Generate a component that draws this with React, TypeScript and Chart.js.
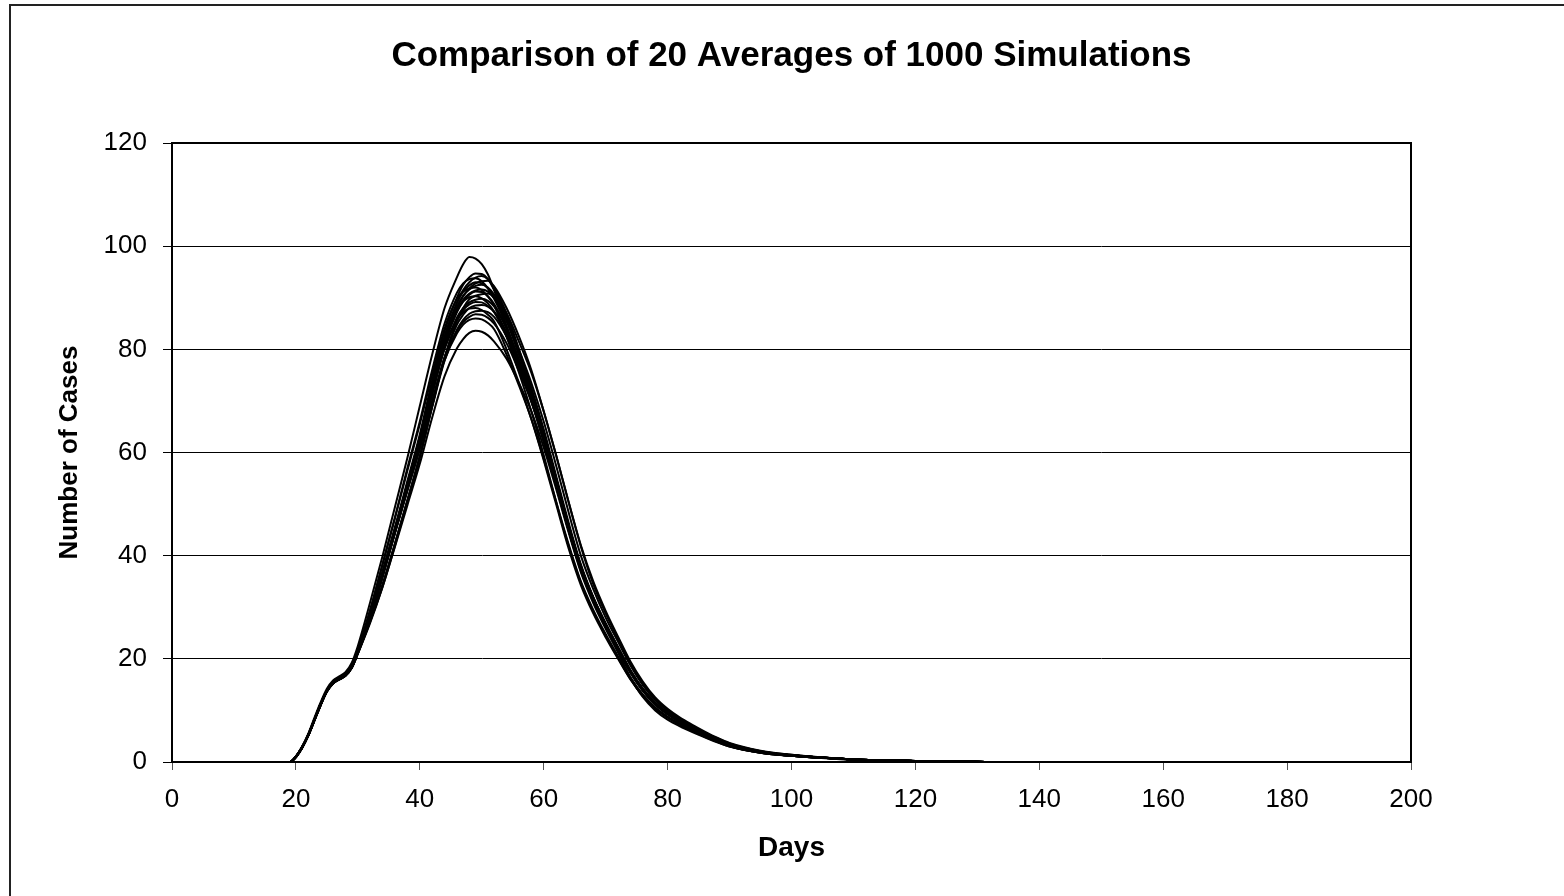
import React, { useEffect, useRef } from "react";
import { Chart, registerables } from "chart.js";

Chart.register(...registerables);

const TITLE = "Comparison of 20 Averages of 1000 Simulations";
const X_TITLE = "Days";
const Y_TITLE = "Number of Cases";
const X_MIN = 0;
const X_MAX = 200;
const X_STEP = 20;
const Y_MIN = 0;
const Y_MAX = 120;
const Y_STEP = 20;

const DAYS = [0,19,20,21,22,23,24,25,26,27,28,29,30,32,34,36,38,40,42,44,46,47,48,49,50,51,52,54,56,58,60,62,64,66,68,70,72,74,76,78,80,82,84,86,88,90,95,100,110,120,127,135,200];

const S01 = [0,0,1.1,3.0,5.5,8.6,11.6,14.2,15.8,16.6,17.4,19.2,22.5,31,40,49.5,59,69,79,88,94,96.5,97.9,97.6,96.5,94.5,91.5,84.5,77,70,62,53.5,45,37.5,31.5,26.5,22,17.5,14,11.3,9.3,7.8,6.5,5.3,4.2,3.3,2.0,1.3,0.5,0.2,0.1,0,0];
const S02 = [0,0,1.0,2.9,5.3,8.3,11.3,13.9,15.5,16.3,17.0,18.7,21.8,29,37,45.5,54.5,63.5,74,83.5,90,92.5,94,94.7,94.6,93.6,91.5,86.5,80,73.5,66,57.5,48.5,40,33.5,28,23.3,18.7,14.9,12,9.9,8.2,6.9,5.6,4.5,3.5,2.1,1.3,0.5,0.2,0.1,0,0];
const S03 = [0,0,0.9,2.7,5.1,8.1,11.1,13.7,15.3,16.1,16.8,18.4,21.3,28.3,36.3,45,54,63,73,82.5,89,91.5,93,93.9,94.2,93.6,92,87,80,72.5,64,55,46,38,31.8,26.8,22.2,17.8,14.2,11.5,9.5,8.0,6.7,5.5,4.4,3.4,2.0,1.3,0.5,0.2,0.1,0,0];
const S04 = [0,0,1.0,2.8,5.2,8.2,11.2,13.8,15.4,16.2,16.9,18.6,21.7,29.5,38.5,47.5,57,66,76,85,91,92.8,93.6,93.8,93.2,91.8,89.8,84.5,78,71,63,54,45,37,31.2,26.2,21.7,17.3,13.8,11.2,9.3,7.8,6.5,5.3,4.2,3.2,1.9,1.2,0.5,0.2,0.1,0,0];
const S05 = [0,0,1.0,2.8,5.2,8.1,11.1,13.7,15.2,16.0,16.7,18.2,21.0,27.8,35.8,44.5,53,62,72,81.5,88,90.3,91.8,92.8,93.2,93.3,92.2,88,82.5,76,68,59.5,50.5,42,35,29.3,24.3,19.5,15.6,12.5,10.3,8.6,7.2,5.9,4.7,3.7,2.2,1.4,0.5,0.2,0.1,0,0];
const S06 = [0,0,1.0,2.8,5.2,8.2,11.2,13.8,15.4,16.3,17.0,18.6,21.6,28.7,36.7,45.3,54,63,73,82.5,89,91.2,92.4,93,92.8,91.8,90,85.5,79,72,64,55,46,38,31.8,26.7,22.1,17.6,14.1,11.4,9.5,7.9,6.6,5.4,4.3,3.3,2.0,1.3,0.5,0.2,0.1,0,0];
const S07 = [0,0,1.0,2.8,5.1,8.1,11.1,13.7,15.3,16.1,16.8,18.4,21.4,28.4,36.4,45,53.6,62.5,72.5,82,88.2,90.4,91.6,92.3,92.5,92,90.6,86,79.5,72.5,64.5,55.5,46.5,38.3,32,26.9,22.3,17.8,14.2,11.5,9.5,7.9,6.6,5.4,4.3,3.3,2.0,1.3,0.5,0.2,0.1,0,0];
const S08 = [0,0,1.1,2.9,5.3,8.3,11.3,13.9,15.5,16.3,17.0,18.6,21.7,29.5,38.3,47.3,56.5,65.5,75,84,89.8,91.2,91.8,92,91.5,90.2,88.5,82.5,75.5,68,59.5,50.5,42,34.8,29.2,24.5,20.2,16.1,12.8,10.4,8.7,7.3,6.1,5.0,4.0,3.1,1.8,1.2,0.5,0.2,0.1,0,0];
const S09 = [0,0,0.9,2.7,5.1,8.1,11.1,13.7,15.3,16.1,16.8,18.3,21.2,28.1,36.1,44.7,53.2,62,72,81.2,87.5,89.6,90.8,91.4,91.6,91.2,90,85.5,79,72,64,55,46,38,31.8,26.7,22.1,17.6,14.1,11.4,9.4,7.9,6.6,5.4,4.3,3.3,2.0,1.3,0.5,0.2,0.1,0,0];
const S10 = [0,0,1.0,2.8,5.2,8.2,11.2,13.8,15.4,16.2,16.9,18.5,21.5,28.5,36.5,45,53.5,62,72,81,87.2,89.3,90.6,91.2,91.1,90.3,88.8,84,77.5,71,63,54.2,45.3,37.4,31.4,26.4,21.9,17.4,13.9,11.2,9.3,7.8,6.5,5.3,4.2,3.2,1.9,1.2,0.5,0.2,0.1,0,0];
const S11 = [0,0,1.0,2.8,5.2,8.1,11.0,13.6,15.2,16.0,16.7,18.2,21.0,27,34,42,50.5,59,69,78.5,85.5,88,89.7,90.4,90.7,90.8,90,87,81.5,75.5,68,59.5,50.5,41.8,34.5,28.8,23.8,19,15.2,12.2,10,8.4,7,5.7,4.6,3.6,2.1,1.4,0.5,0.2,0.1,0,0];
const S12 = [0,0,1.0,2.9,5.3,8.3,11.3,13.9,15.5,16.3,17.0,18.6,21.6,28.7,36.7,45.3,53.8,62.5,72.5,81.5,87.5,89.3,90.1,90.3,89.9,88.9,87.3,82.5,76.5,70,62.3,53.6,45,37.2,31.3,26.3,21.8,17.4,13.9,11.2,9.3,7.7,6.4,5.2,4.1,3.2,1.9,1.2,0.5,0.2,0.1,0,0];
const S13 = [0,0,1.0,2.8,5.2,8.2,11.2,13.8,15.4,16.2,16.9,18.4,21.3,28.2,36.2,44.6,53,61.5,71.3,80.3,86.2,88,89.1,89.6,89.8,89.4,88.3,84,78,71.5,63.5,54.8,46,38,31.8,26.7,22.1,17.6,14.1,11.4,9.4,7.9,6.6,5.4,4.3,3.3,2.0,1.3,0.5,0.2,0.1,0,0];
const S14 = [0,0,1.0,2.8,5.2,8.2,11.2,13.8,15.3,16.1,16.8,18.4,21.4,28.4,36.3,44.8,53.2,61.7,71.3,80.2,85.8,87.6,88.7,89.2,89.1,88.4,87.2,83,77,70.7,63,54.4,45.6,37.6,31.6,26.6,22,17.5,14,11.3,9.4,7.9,6.6,5.4,4.3,3.3,2.0,1.3,0.5,0.2,0.1,0,0];
const S15 = [0,0,0.9,2.7,5.1,8.0,11.0,13.6,15.2,16.0,16.7,18.2,21.1,27.3,34.3,42.3,50.7,59.3,69,78.3,84.8,86.7,88,88.5,88.6,88.3,87.3,83.3,77.5,71,63.3,54.6,45.8,37.8,31.7,26.6,22.1,17.6,14.1,11.4,9.4,7.9,6.6,5.4,4.3,3.3,2.0,1.3,0.5,0.2,0.1,0,0];
const S16 = [0,0,1.1,2.9,5.3,8.3,11.3,13.9,15.5,16.3,17.0,18.5,21.5,28.6,36.6,45,53.4,61.8,71.6,80.2,85.6,87.2,87.9,88,87.6,86.7,85.4,80,73.5,66.5,58.5,50,41.5,34.3,28.8,24.2,20,16,12.8,10.3,8.6,7.2,6.0,4.9,3.9,3.0,1.8,1.2,0.5,0.2,0.1,0,0];
const S17 = [0,0,1.0,2.8,5.2,8.2,11.1,13.7,15.3,16.1,16.8,18.3,21.2,27.5,34.5,42.5,50.8,59.2,68.8,77.8,83.8,85.7,86.9,87.4,87.5,87.2,86.3,82.5,77,70.8,63.2,54.6,45.8,37.8,31.7,26.6,22.1,17.6,14.1,11.4,9.4,7.9,6.6,5.4,4.3,3.3,2.0,1.3,0.5,0.2,0.1,0,0];
const S18 = [0,0,1.0,2.8,5.2,8.2,11.2,13.8,15.4,16.2,16.9,18.4,21.3,28.2,36.1,44.4,52.6,60.8,70,78.4,83.6,85.3,86.3,86.8,86.7,86.1,85,81.2,75.8,69.8,62.4,54,45.3,37.4,31.4,26.4,21.9,17.4,13.9,11.2,9.3,7.8,6.5,5.3,4.2,3.2,1.9,1.2,0.5,0.2,0.1,0,0];
const S19 = [0,0,1.0,2.8,5.2,8.2,11.2,13.8,15.4,16.2,16.9,18.5,21.4,28.3,36.2,44.5,52.7,60.8,69.8,77.9,83.1,84.8,85.7,86,85.8,85.1,83.9,79,73,66.5,58.8,50.5,42.3,35,29.5,24.8,20.5,16.4,13.1,10.6,8.8,7.4,6.2,5.0,4.0,3.1,1.8,1.2,0.5,0.2,0.1,0,0];
const S20 = [0,0,1.0,2.8,5.2,8.1,11.1,13.7,15.2,16.0,16.7,18.2,21.0,27.3,34,41.8,49.8,57.8,66.8,74.8,80.2,82,83.2,83.6,83.4,82.7,81.5,78.2,73.5,68,61,53,44.6,36.8,30.8,25.8,21.2,16.4,12.6,10.0,8.2,6.9,5.8,4.8,3.8,3.0,1.8,1.2,0.4,0.2,0.1,0,0];

const SERIES = [S01,S02,S03,S04,S05,S06,S07,S08,S09,S10,S11,S12,S13,S14,S15,S16,S17,S18,S19,S20];

const FONT = "'Liberation Sans', Arial, Helvetica, sans-serif";
const W = 1564;
const H = 896;

const framePlugin = {
  id: "excelFrame",
  beforeDraw(chart: any) {
    const ctx = chart.ctx;
    ctx.save();
    ctx.fillStyle = "#fff";
    ctx.fillRect(0, 0, chart.width, chart.height);
    ctx.strokeStyle = "#222";
    ctx.lineWidth = 2;
    ctx.beginPath();
    ctx.moveTo(10, chart.height + 5);
    ctx.lineTo(10, 5);
    ctx.lineTo(chart.width + 5, 5);
    ctx.stroke();
    ctx.restore();
  },
  afterDatasetsDraw(chart: any) {
    const { left, top, right, bottom } = chart.chartArea;
    const ctx = chart.ctx;
    ctx.save();
    ctx.strokeStyle = "#000";
    ctx.lineWidth = 2;
    ctx.strokeRect(left, top, right - left, bottom - top);
    ctx.restore();
  },
};

export default function App() {
  const ref = useRef<HTMLCanvasElement | null>(null);

  useEffect(() => {
    if (!ref.current) return;
    const chart = new Chart(ref.current, {
      type: "line",
      data: {
        datasets: SERIES.map((s, k) => ({
          label: `Average ${k + 1}`,
          data: DAYS.map((d, i) => ({ x: d, y: s[i] })),
          borderColor: "#000",
          borderWidth: 2,
          pointRadius: 0,
          fill: false,
          cubicInterpolationMode: "monotone" as const,
        })),
      },
      options: {
        responsive: false,
        animation: false,
        layout: { padding: { left: 0, right: 153, top: 0, bottom: 0 } },
        plugins: {
          legend: { display: false },
          tooltip: { enabled: false },
          title: {
            display: true,
            text: TITLE,
            fullSize: false,
            color: "#000",
            font: { family: FONT, size: 35, weight: "bold" },
            padding: { top: 35, bottom: 66 },
          },
        },
        scales: {
          x: {
            type: "linear",
            min: X_MIN,
            max: X_MAX,
            afterFit: (s: any) => {
              s.height = 134;
            },
            ticks: {
              stepSize: X_STEP,
              color: "#000",
              font: { family: FONT, size: 26 },
              padding: 14,
              maxRotation: 0,
            },
            grid: {
              drawOnChartArea: false,
              drawTicks: true,
              tickLength: 8,
              color: "#555",
              lineWidth: 1,
            },
            border: { color: "#000", width: 2 },
            title: {
              display: true,
              text: X_TITLE,
              color: "#000",
              font: { family: FONT, size: 28, weight: "bold" },
              padding: { top: 0, bottom: 31 },
            },
          },
          y: {
            min: Y_MIN,
            max: Y_MAX,
            afterFit: (s: any) => {
              s.width = 172;
            },
            ticks: {
              stepSize: Y_STEP,
              color: "#000",
              font: { family: FONT, size: 26 },
              padding: 16,
            },
            grid: {
              color: "#000",
              lineWidth: 1,
              drawTicks: true,
              tickLength: 9,
            },
            border: { color: "#000", width: 2 },
            title: {
              display: true,
              text: Y_TITLE,
              color: "#000",
              font: { family: FONT, size: 26, weight: "bold" },
              padding: { top: 54, bottom: 0 },
            },
          },
        },
      },
      plugins: [framePlugin],
    });
    return () => chart.destroy();
  }, []);

  return (
    <div style={{ position: "fixed", left: 0, top: 0, width: W, height: H, background: "#fff" }}>
      <canvas ref={ref} width={W} height={H} style={{ display: "block", width: W, height: H }} />
    </div>
  );
}
